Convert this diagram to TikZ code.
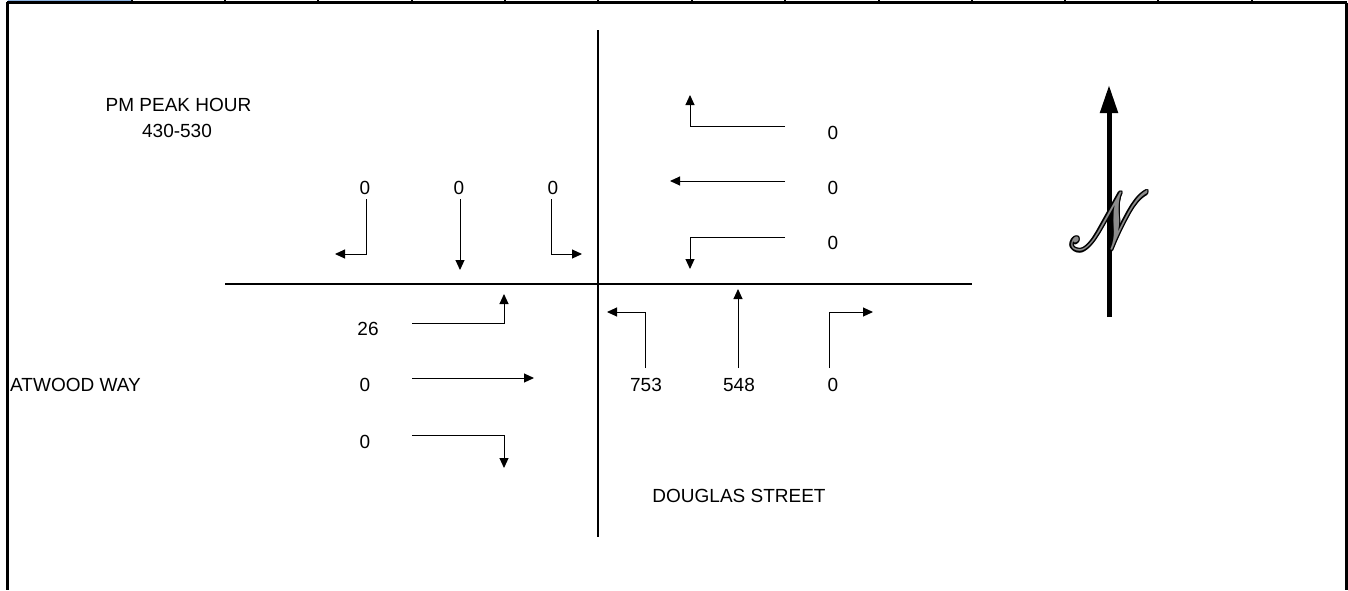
\documentclass[tikz,border=0pt]{standalone}
\usepackage{fontspec}
\setmainfont{Liberation Sans}
\usepackage{mathrsfs}
\usetikzlibrary{arrows.meta}
\tikzset{
  road/.style={line width=2pt,black},
  mv/.style={line width=1pt,-{Triangle[length=10pt,width=9pt]}},
  lbl/.style={inner sep=0pt,font=\fontsize{19}{22}\selectfont},
  frame/.style={line width=2.2pt,black},
}
\newcommand{\bigN}{\scalebox{6.5}[8.2]{$\mathscr{N}$}}
\newcommand{\Ncp}[2]{\rlap{\hspace*{#1}\raisebox{#2}{\bigN}}}
\newcommand{\outN}{{\color{black}\Ncp{1.5pt}{0pt}\Ncp{-1.5pt}{0pt}\Ncp{0pt}{1.5pt}\Ncp{0pt}{-1.5pt}\Ncp{1.1pt}{1.1pt}\Ncp{-1.1pt}{1.1pt}\Ncp{1.1pt}{-1.1pt}\Ncp{-1.1pt}{-1.1pt}}{\color[RGB]{140,140,140}\bigN}}
\begin{document}
\begin{tikzpicture}[x=1pt,y=-1pt]
\useasboundingbox (0,0) rectangle (1348,590);
% spreadsheet frame
\fill[fill={rgb,255:red,141;green,180;blue,226}] (8,0) rectangle (131,2);
\draw[frame] (7,2.5) -- (1346.5,2.5);
\draw[frame] (7.5,1.5) -- (7.5,590);
\draw[frame] (1346.5,2.5) -- (1346.5,590);
\foreach \x in {132,225,318,412,505,598,692,785,879,972,1065,1158,1252}
  \draw[line width=1.5pt] (\x,0) -- (\x,2.5);
% roads
\coordinate (vN) at (598,30);
\coordinate (vS) at (598,537);
\coordinate (hW) at (225,284);
\coordinate (hE) at (972,284);
\draw[road] (vN) -- (vS);
\draw[road] (hW) -- (hE);
% titles
\node[lbl] (pm) at (178.5,105) {PM PEAK HOUR};
\node[lbl] (time) at (177,131) {430-530};
\node[lbl,anchor=west] (atw) at (10,385) {ATWOOD WAY};
\node[lbl] (doug) at (739,496) {DOUGLAS STREET};
% southbound
\node[lbl] (s1) at (365,188) {0};
\node[lbl] (s2) at (459,188) {0};
\node[lbl] (s3) at (553,188) {0};
\coordinate (s1a) at (366,199); \coordinate (s1b) at (366,254); \coordinate (s1c) at (335,254);
\coordinate (s2a) at (460,199); \coordinate (s2b) at (460,270);
\coordinate (s3a) at (551,199); \coordinate (s3b) at (551,254); \coordinate (s3c) at (582,254);
\draw[mv] (s1a) -- (s1b) -- (s1c);
\draw[mv] (s2a) -- (s2b);
\draw[mv] (s3a) -- (s3b) -- (s3c);
% westbound
\node[lbl] (w1) at (833,133) {0};
\node[lbl] (w2) at (833,188) {0};
\node[lbl] (w3) at (833,243) {0};
\coordinate (w1a) at (785,126); \coordinate (w1b) at (690,126); \coordinate (w1c) at (690,95);
\coordinate (w2a) at (785,181); \coordinate (w2b) at (670,181);
\coordinate (w3a) at (785,237); \coordinate (w3b) at (690,237); \coordinate (w3c) at (690,269);
\draw[mv] (w1a) -- (w1b) -- (w1c);
\draw[mv] (w2a) -- (w2b);
\draw[mv] (w3a) -- (w3b) -- (w3c);
% northbound
\node[lbl] (n1) at (646,385) {753};
\node[lbl] (n2) at (739,385) {548};
\node[lbl] (n3) at (833,385) {0};
\coordinate (n1a) at (645,368); \coordinate (n1b) at (645,312); \coordinate (n1c) at (607,312);
\coordinate (n2a) at (738,368); \coordinate (n2b) at (738,289);
\coordinate (n3a) at (829,368); \coordinate (n3b) at (829,312); \coordinate (n3c) at (873,312);
\draw[mv] (n1a) -- (n1b) -- (n1c);
\draw[mv] (n2a) -- (n2b);
\draw[mv] (n3a) -- (n3b) -- (n3c);
% eastbound
\node[lbl] (e1) at (368,329) {26};
\node[lbl] (e2) at (365,385) {0};
\node[lbl] (e3) at (365,442) {0};
\coordinate (e1a) at (412,323); \coordinate (e1b) at (504,323); \coordinate (e1c) at (504,294);
\coordinate (e2a) at (412,378); \coordinate (e2b) at (534,378);
\coordinate (e3a) at (412,435); \coordinate (e3b) at (504,435); \coordinate (e3c) at (504,468);
\draw[mv] (e1a) -- (e1b) -- (e1c);
\draw[mv] (e2a) -- (e2b);
\draw[mv] (e3a) -- (e3b) -- (e3c);
% north arrow
\coordinate (nb) at (1109,317);
\coordinate (nt) at (1109,85);
\draw[line width=5pt,-{Triangle[length=28pt,width=17pt]}] (nb) -- (nt);
\node[inner sep=0pt] (nn) at (1110,221) {\outN};
\end{tikzpicture}
\end{document}
